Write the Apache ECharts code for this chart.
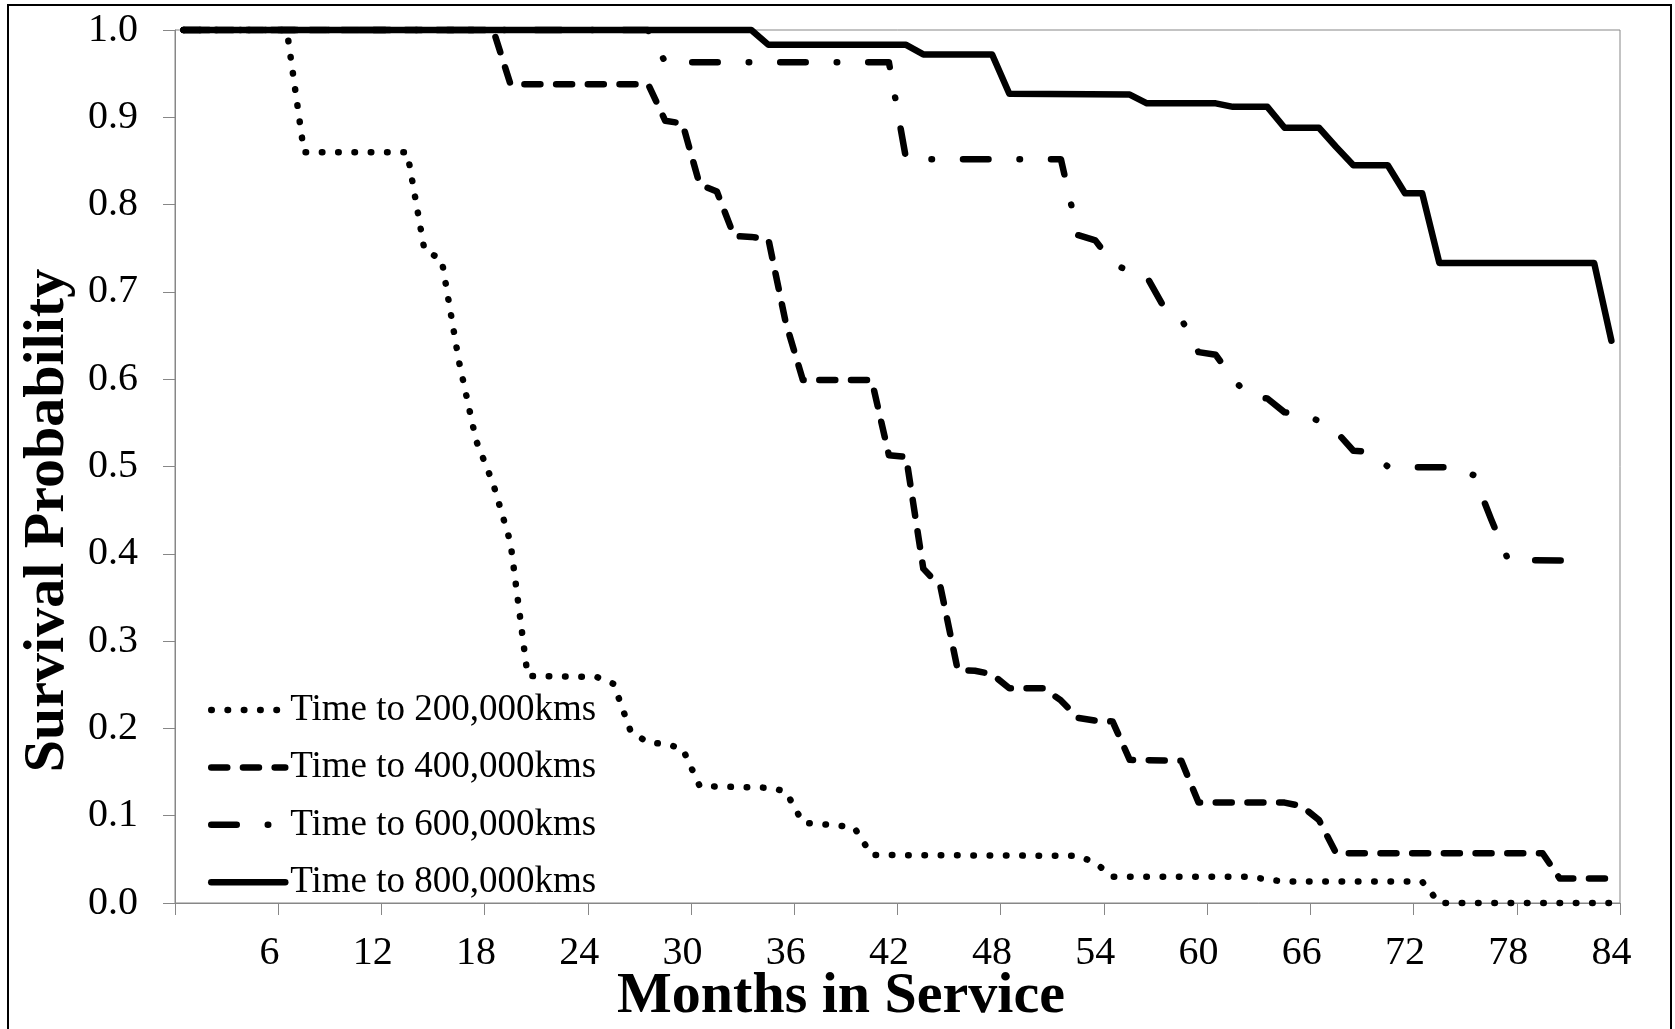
<!DOCTYPE html>
<html>
<head>
<meta charset="utf-8">
<script src="https://cdn.jsdelivr.net/npm/echarts@6/dist/echarts.min.js"></script>
<style>
  html, body { margin: 0; padding: 0; background: #fff; }
  #chart { width: 1675px; height: 1029px; }
</style>
</head>
<body>
<div id="chart"></div>
<script>
// Categories: months in service 1..84
const months = Array.from({ length: 84 }, (_, i) => String(i + 1));
const yTicks = [0, 0.1, 0.2, 0.3, 0.4, 0.5, 0.6, 0.7, 0.8, 0.9, 1.0];

// [month, survival probability] at the corners of each step curve
const time200 = [[1,1.0],[7,1.0],[8,0.86],[14,0.86],[15,0.748],[16,0.737],[17,0.621],[18,0.53],[19,0.48],[20,0.413],[21,0.26],[25,0.259],[26,0.251],[27,0.196],[28,0.184],[29,0.182],[30,0.177],[31,0.134],[35,0.132],[36,0.128],[37,0.092],[39,0.089],[40,0.086],[41,0.055],[53,0.054],[54,0.046],[55,0.030],[63,0.030],[64,0.027],[65,0.0245],[73,0.0245],[74,0],[84,0]];
const time400 = [[1,1.0],[19,1.0],[20,0.938],[28,0.938],[29,0.896],[30,0.893],[31,0.823],[32,0.815],[33,0.764],[34,0.763],[35,0.76],[36,0.665],[37,0.599],[41,0.599],[42,0.513],[43,0.511],[44,0.383],[45,0.362],[46,0.267],[47,0.266],[48,0.262],[49,0.246],[51,0.246],[52,0.232],[53,0.212],[54,0.209],[55,0.208],[56,0.164],[59,0.163],[60,0.115],[65,0.115],[66,0.111],[67,0.095],[68,0.057],[80,0.057],[81,0.028],[84,0.028]];
const time600 = [[1,1.0],[28,1.0],[29,0.963],[42,0.963],[43,0.852],[52,0.852],[53,0.765],[54,0.759],[55,0.733],[56,0.723],[57,0.717],[58,0.682],[59,0.669],[60,0.631],[61,0.628],[62,0.60],[63,0.58],[64,0.578],[65,0.562],[66,0.561],[67,0.552],[68,0.54],[69,0.518],[70,0.517],[71,0.50],[72,0.499],[75,0.499],[76,0.49],[77,0.44],[78,0.393],[82,0.392]];
const time800 = [[1,1.0],[34,1.0],[35,0.983],[43,0.983],[44,0.972],[48,0.972],[49,0.927],[56,0.926],[57,0.916],[61,0.916],[62,0.912],[64,0.912],[65,0.888],[67,0.888],[68,0.866],[69,0.845],[71,0.845],[72,0.813],[73,0.813],[74,0.733],[83,0.733],[84,0.644]];

const seriesNames = ['Time to 200,000kms', 'Time to 400,000kms', 'Time to 600,000kms', 'Time to 800,000kms'];

const FONT = 'Liberation Serif, Times New Roman, serif';
const GRAY = '#878787';
const LW = 6.5;

function toData(arr) { return arr.map(p => [String(p[0]), p[1]]); }

function lineSeries(name, arr, dash) {
  return {
    name: name,
    type: 'line',
    data: toData(arr),
    symbol: 'none',
    showSymbol: false,
    clip: false,
    silent: true,
    lineStyle: { color: '#000', width: LW, type: dash, cap: 'round', join: 'round' },
    itemStyle: { color: '#000' }
  };
}

const chart = echarts.init(document.getElementById('chart'), null, { renderer: 'canvas' });
chart.setOption({
  animation: false,
  backgroundColor: '#fff',
  grid: {
    left: 175, right: 55, top: 30, bottom: 126,
    show: true, borderColor: GRAY, borderWidth: 1, backgroundColor: 'transparent',
    containLabel: false, outerBoundsMode: 'none'
  },
  legend: {
    orient: 'vertical',
    left: 208, top: 690,
    padding: 0,
    itemWidth: 74, itemHeight: 14, itemGap: 17.4,
    selectedMode: false,
    data: seriesNames,
    itemStyle: { opacity: 0, color: 'transparent', borderWidth: 0 },
    lineStyle: { width: LW, color: '#000', cap: 'round', join: 'round', type: 'inherit' },
    textStyle: { fontFamily: FONT, fontSize: 37, color: '#000', lineHeight: 40 }
  },
  xAxis: {
    type: 'category',
    data: months,
    boundaryGap: true,
    name: 'Months in Service',
    nameLocation: 'middle',
    nameGap: 65,
    nameMoveOverlap: false,
    nameTextStyle: { fontFamily: FONT, fontSize: 58, fontWeight: 'bold', color: '#000', lineHeight: 58, padding: [0, 113, 0, 0] },
    axisLine: { show: true, lineStyle: { color: GRAY, width: 1 } },
    axisTick: { show: true, length: 12, alignWithLabel: false, interval: (i) => i % 6 === 0, lineStyle: { color: GRAY, width: 1 } },
    axisLabel: { show: true, interval: (i) => (i + 1) % 6 === 0, margin: 30, fontFamily: FONT, fontSize: 40, color: '#000' },
    splitLine: { show: false }
  },
  yAxis: {
    type: 'value',
    min: yTicks[0], max: yTicks[yTicks.length - 1], interval: 0.1,
    name: 'Survival Probability',
    nameLocation: 'middle',
    nameGap: 98,
    nameMoveOverlap: false,
    nameTextStyle: { fontFamily: FONT, fontSize: 58, fontWeight: 'bold', color: '#000', lineHeight: 58, padding: [0, 108, 0, 0] },
    axisLine: { show: true, lineStyle: { color: GRAY, width: 1 } },
    axisTick: { show: true, length: 12, lineStyle: { color: GRAY, width: 1 } },
    axisLabel: { show: true, margin: 37, fontFamily: FONT, fontSize: 40, color: '#000', formatter: (v) => v.toFixed(1) },
    splitLine: { show: false }
  },
  graphic: [{
    type: 'rect', silent: true, z: 100,
    shape: { x: 8, y: 5, width: 1663, height: 1100 },
    style: { fill: 'none', stroke: '#000', lineWidth: 2 }
  }],
  series: [
    lineSeries(seriesNames[0], time200, [0.5, 15.8]),
    lineSeries(seriesNames[1], time400, [16, 15.7]),
    lineSeries(seriesNames[2], time600, [25.5, 31, 0.5, 31]),
    lineSeries(seriesNames[3], time800, 'solid')
  ]
});
</script>
</body>
</html>
